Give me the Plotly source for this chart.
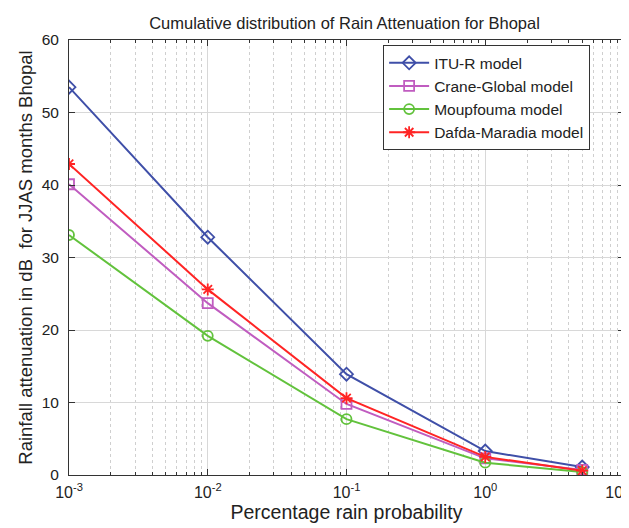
import plotly.graph_objects as go

prob = [0.001, 0.01, 0.1, 1, 5]
itu = [53.5, 32.8, 13.9, 3.3, 1.1]
crane = [40.1, 23.7, 9.8, 2.3, 0.7]
moup = [33.1, 19.2, 7.7, 1.7, 0.4]
dafda = [42.9, 25.6, 10.6, 2.5, 0.6]

names = ["ITU-R model", "Crane-Global model", "Moupfouma model", "Dafda-Maradia model"]
series = [itu, crane, moup, dafda]
colors = ["#3f4fa8", "#c05cc0", "#62c23c", "#ff2424"]
symbols = ["diamond-open", "square-open", "circle-open", "asterisk-open"]

xtick_vals = [0.001, 0.01, 0.1, 1, 10]
xtick_text = ["10<sup>-3</sup>", "10<sup>-2</sup>", "10<sup>-1</sup>", "10<sup>0</sup>", "10<sup>1</sup>&nbsp;&nbsp;&nbsp;"]
ytick_vals = [0, 10, 20, 30, 40, 50, 60]

fig = go.Figure()
for n, s, c, sym in zip(names, series, colors, symbols):
    fig.add_trace(go.Scatter(
        x=prob, y=s, name=n, mode="lines+markers",
        line=dict(color=c, width=2),
        marker=dict(symbol=sym, size=10, color=c, line=dict(color=c, width=1.8)),
    ))

fig.update_layout(
    width=629, height=528,
    paper_bgcolor="white", plot_bgcolor="white",
    margin=dict(l=61, r=13, t=32, b=61),
    font=dict(family="Liberation Sans, Arial, sans-serif", color="#222"),
    title=dict(text="Cumulative distribution of Rain Attenuation for Bhopal",
               x=0.535, xanchor="center", y=0.972, yanchor="middle",
               font=dict(size=16.5, color="#222")),
    legend=dict(x=0.566, y=0.988, xanchor="left", yanchor="top",
                bgcolor="white", bordercolor="#333", borderwidth=1,
                font=dict(size=15.5, color="#222"), tracegroupgap=0,
                itemwidth=40),
    showlegend=True,
)
fig.update_xaxes(
    type="log", range=[-3, 1],
    tickvals=xtick_vals, ticktext=xtick_text,
    ticks="inside", ticklen=6, tickcolor="#333",
    showline=True, linecolor="#333", linewidth=1, mirror="ticks",
    showgrid=True, gridcolor="#d8d8d8", gridwidth=1,
    minor=dict(dtick="D1", ticks="inside", ticklen=3, tickcolor="#333", showgrid=True,
               gridcolor="#cfcfcf", griddash="dot", gridwidth=1),
    tickfont=dict(size=16), zeroline=False, ticklabelstandoff=3,
    ticklabeloverflow="allow", automargin=False,
    title=dict(text="Percentage rain probability", font=dict(size=19.5), standoff=2),
)
fig.update_yaxes(
    range=[0, 60], tickvals=ytick_vals,
    ticks="inside", ticklen=6, tickcolor="#333",
    showline=True, linecolor="#333", linewidth=1, mirror="ticks",
    showgrid=True, gridcolor="#d8d8d8", gridwidth=1,
    tickfont=dict(size=15.5), zeroline=False, ticklabelstandoff=6,
    title=dict(text="Rainfall attenuation in dB  for JJAS months Bhopal", font=dict(size=18.5), standoff=4),
)

fig.write_html("out.html")
